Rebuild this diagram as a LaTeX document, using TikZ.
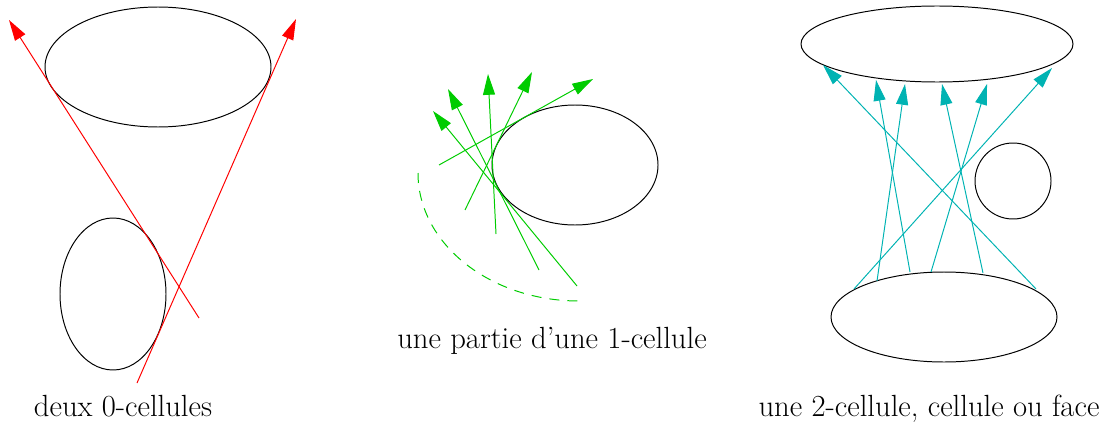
\documentclass[tikz,border=0pt]{standalone}
\usepackage{tikz}
\usetikzlibrary{arrows.meta}
\definecolor{Ray}{HTML}{FF0000}
\definecolor{Leaf}{HTML}{00CC00}
\definecolor{Sea}{HTML}{00B3B3}
\tikzset{
  cellline/.style={line width=0.7pt},
  ray/.style={line width=0.7pt,-{Triangle[length=0.52cm,width=0.3cm]}},
  caption/.style={font=\fontsize{21.8}{26}\selectfont,anchor=base}
}

\begin{document}
\begin{tikzpicture}[>=Stealth]
    \useasboundingbox (0,0) rectangle (27.55,10.7);
    % deux 0-cellules
    \draw[cellline] (3.95,9.025) ellipse [x radius=2.825cm,y radius=1.5cm];
    \draw[cellline] (2.825,3.35) ellipse [x radius=1.325cm,y radius=1.9cm];
    \coordinate (r1a) at (4.975,2.75);  \coordinate (r1b) at (0.225,10.2);
    \coordinate (r2a) at (3.425,1.125); \coordinate (r2b) at (7.4,10.225);
    \draw[ray,Ray] (r1a)--(r1b);
    \draw[ray,Ray] (r2a)--(r2b);
    \node[caption] (cap0) at (3.075,0.28) {deux 0-cellules};
    % une partie d'une 1-cellule
    \draw[cellline] (14.375,6.575) ellipse [x radius=2.075cm,y radius=1.5cm];
    \coordinate (g1a) at (10.975,6.575); \coordinate (g1b) at (14.825,8.725);
    \coordinate (g2a) at (11.625,5.45);  \coordinate (g2b) at (13.3,8.9);
    \coordinate (g3a) at (12.4,4.85);    \coordinate (g3b) at (12.2,8.85);
    \coordinate (g4a) at (13.475,3.95);  \coordinate (g4b) at (11.2,8.475);
    \coordinate (g5a) at (14.425,3.55);  \coordinate (g5b) at (10.825,7.925);
    \draw[ray,Leaf] (g1a)--(g1b);
    \draw[ray,Leaf] (g2a)--(g2b);
    \draw[ray,Leaf] (g3a)--(g3b);
    \draw[ray,Leaf] (g4a)--(g4b);
    \draw[ray,Leaf] (g5a)--(g5b);
    \draw[Leaf,line width=0.7pt,dash pattern=on 0.25cm off 0.2cm] (10.45,6.375) arc [start angle=180,end angle=270,x radius=4.025cm,y radius=3.2cm];
    \node[caption] (cap1) at (13.8,2.0) {une partie d'une 1-cellule};
    % une 2-cellule
    \draw[cellline] (23.425,9.6) ellipse [x radius=3.4cm,y radius=0.95cm];
    \draw[cellline] (25.325,6.175) circle [radius=0.95cm];
    \draw[cellline] (23.6,2.775) ellipse [x radius=2.825cm,y radius=1.125cm];
    \coordinate (c1a) at (25.9,3.475);  \coordinate (c1b) at (20.575,9.075);
    \coordinate (c2a) at (22.75,3.9);   \coordinate (c2b) at (21.9,8.7);
    \coordinate (c3a) at (21.925,3.675); \coordinate (c3b) at (22.625,8.6);
    \coordinate (c4a) at (24.575,3.875); \coordinate (c4b) at (23.55,8.6);
    \coordinate (c5a) at (23.275,3.9);  \coordinate (c5b) at (24.675,8.6);
    \coordinate (c6a) at (21.35,3.475); \coordinate (c6b) at (26.3,9.0);
    \draw[ray,Sea] (c1a)--(c1b);
    \draw[ray,Sea] (c2a)--(c2b);
    \draw[ray,Sea] (c3a)--(c3b);
    \draw[ray,Sea] (c4a)--(c4b);
    \draw[ray,Sea] (c5a)--(c5b);
    \draw[ray,Sea] (c6a)--(c6b);
    \node[caption] (cap2) at (23.225,0.28) {une 2-cellule, cellule ou face};
  \end{tikzpicture}
\end{document}
